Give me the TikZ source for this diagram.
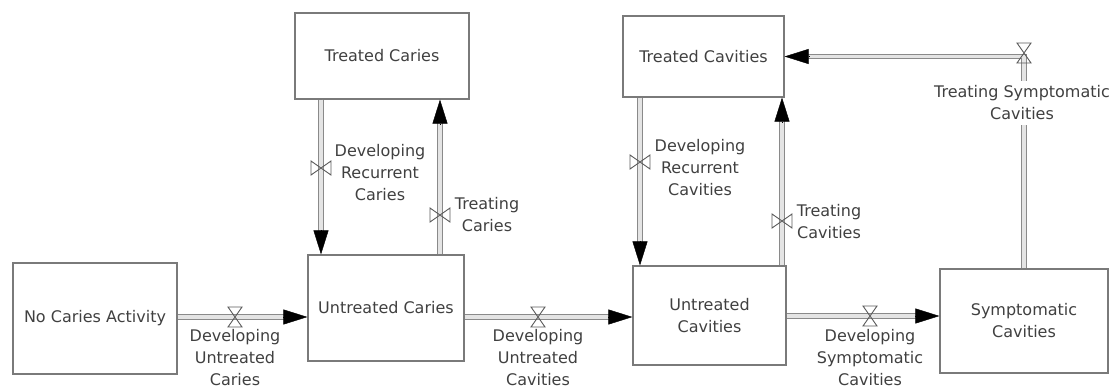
\documentclass[tikz,border=0pt]{standalone}
\usepackage{fontspec}
\setmainfont{DejaVu Sans}
\usetikzlibrary{arrows.meta}
\definecolor{boxgray}{HTML}{7A7A7A}
\definecolor{pipegray}{HTML}{8A8A8A}
\definecolor{pipefill}{HTML}{E4E4E4}
\definecolor{textgray}{HTML}{404040}
\definecolor{valvegray}{HTML}{5A5A5A}
\tikzset{
  box/.style={draw=boxgray, line width=1.2pt, text=textgray, align=center, inner sep=0pt,
    font=\fontsize{16}{22}\selectfont},
  lbl/.style={text=textgray, align=center, inner sep=0pt, font=\fontsize{16}{22}\selectfont},
  pipe/.style={draw=pipegray, line width=1.2pt, double=pipefill, double distance=3.4pt, shorten >=21pt},
  tip/.style={draw=black, line width=0.4pt, -{Triangle[length=24pt,width=15pt]}},
  valve/.style={draw=valvegray, line width=0.9pt, line join=miter},
  bowtie/.pic={\draw[valve] (-10,-7) -- (-10,7) -- (10,-7) -- (10,7) -- cycle;},
  hourglass/.pic={\draw[valve] (-7,-10) -- (7,-10) -- (-7,10) -- (7,10) -- cycle;}
}
\begin{document}
\begin{tikzpicture}[x=1pt, y=-1pt]
\useasboundingbox (0,0) rectangle (1113,389);
% stocks
\node[box, minimum width=164pt, minimum height=111pt] (nca) at (95,318.5) {No Caries Activity};
\node[box, minimum width=156pt, minimum height=106pt] (uc) at (386,308) {Untreated Caries};
\node[box, minimum width=174pt, minimum height=86pt] (tc) at (382,56) {Treated Caries};
\node[box, minimum width=161pt, minimum height=81pt] (tcv) at (703.5,56.5) {Treated Cavities};
\node[box, minimum width=153pt, minimum height=99pt] (ucv) at (709.5,315.5) {Untreated\\Cavities};
\node[box, minimum width=168pt, minimum height=104pt] (sc) at (1024,321) {Symptomatic\\Cavities};
% anchor coordinates for flows
\coordinate (nca-o) at (nca.east |- 0,317);
\coordinate (uc-i) at (uc.west |- 0,317);
\coordinate (uc-o) at (uc.east |- 0,317);
\coordinate (ucv-i) at (ucv.west |- 0,317);
\coordinate (ucv-o) at (ucv.east |- 0,316);
\coordinate (sc-i) at (sc.west |- 0,316);
\coordinate (tc-d) at (321,0 |- tc.south);
\coordinate (uc-d) at (321,0 |- uc.north);
\coordinate (uc-u) at (440,0 |- uc.north);
\coordinate (tc-u) at (440,0 |- tc.south);
\coordinate (tcv-d) at (640,0 |- tcv.south);
\coordinate (ucv-d) at (640,0 |- ucv.north);
\coordinate (ucv-u) at (782,0 |- ucv.north);
\coordinate (tcv-u) at (782,0 |- tcv.south);
% flows
\draw[pipe] (nca-o) -- (uc-i);
\draw[tip] ([xshift=-24pt]uc-i) -- (uc-i);
\draw[pipe] (uc-o) -- (ucv-i);
\draw[tip] ([xshift=-24pt]ucv-i) -- (ucv-i);
\draw[pipe] (ucv-o) -- (sc-i);
\draw[tip] ([xshift=-24pt]sc-i) -- (sc-i);
\draw[pipe] (tc-d) -- (uc-d);
\draw[tip] ([yshift=24pt]uc-d) -- (uc-d);
\draw[pipe] (uc-u) -- (tc-u);
\draw[tip] ([yshift=-24pt]tc-u) -- (tc-u);
\draw[pipe] (tcv-d) -- (ucv-d);
\draw[tip] ([yshift=24pt]ucv-d) -- (ucv-d);
\draw[pipe] (ucv-u) -- (tcv-u);
\draw[tip] ([yshift=-24pt]tcv-u) -- (tcv-u);
\coordinate (sc-u) at (sc.north);
\coordinate (tcv-i) at (tcv.east);
\draw[pipe] (sc-u) |- (tcv-i);
\draw[tip] ([xshift=24pt]tcv-i) -- (tcv-i);
% valves
\pic at (235,317) {hourglass};
\pic at (538,317) {hourglass};
\pic at (870,316) {hourglass};
\pic at (321,168) {bowtie};
\pic at (440,215) {bowtie};
\pic at (640,162) {bowtie};
\pic at (782,221) {bowtie};
\pic at (1024,53) {hourglass};
% flow labels
\node[lbl, anchor=north] (l1) at (235,329) {Developing\\Untreated\\Caries};
\node[lbl, anchor=north] (l2) at (538,329) {Developing\\Untreated\\Cavities};
\node[lbl, anchor=north] (l3) at (870,329) {Developing\\Symptomatic\\Cavities};
\node[lbl] (l4) at (380,173) {Developing\\Recurrent\\Caries};
\node[lbl] (l5) at (487,215) {Treating\\Caries};
\node[lbl] (l6) at (700,168) {Developing\\Recurrent\\Cavities};
\node[lbl] (l7) at (829,222) {Treating\\Cavities};
\node[lbl, fill=white, inner xsep=1pt, inner ysep=5pt] (l8) at (1022,103) {Treating Symptomatic\\Cavities};
\end{tikzpicture}
\end{document}
